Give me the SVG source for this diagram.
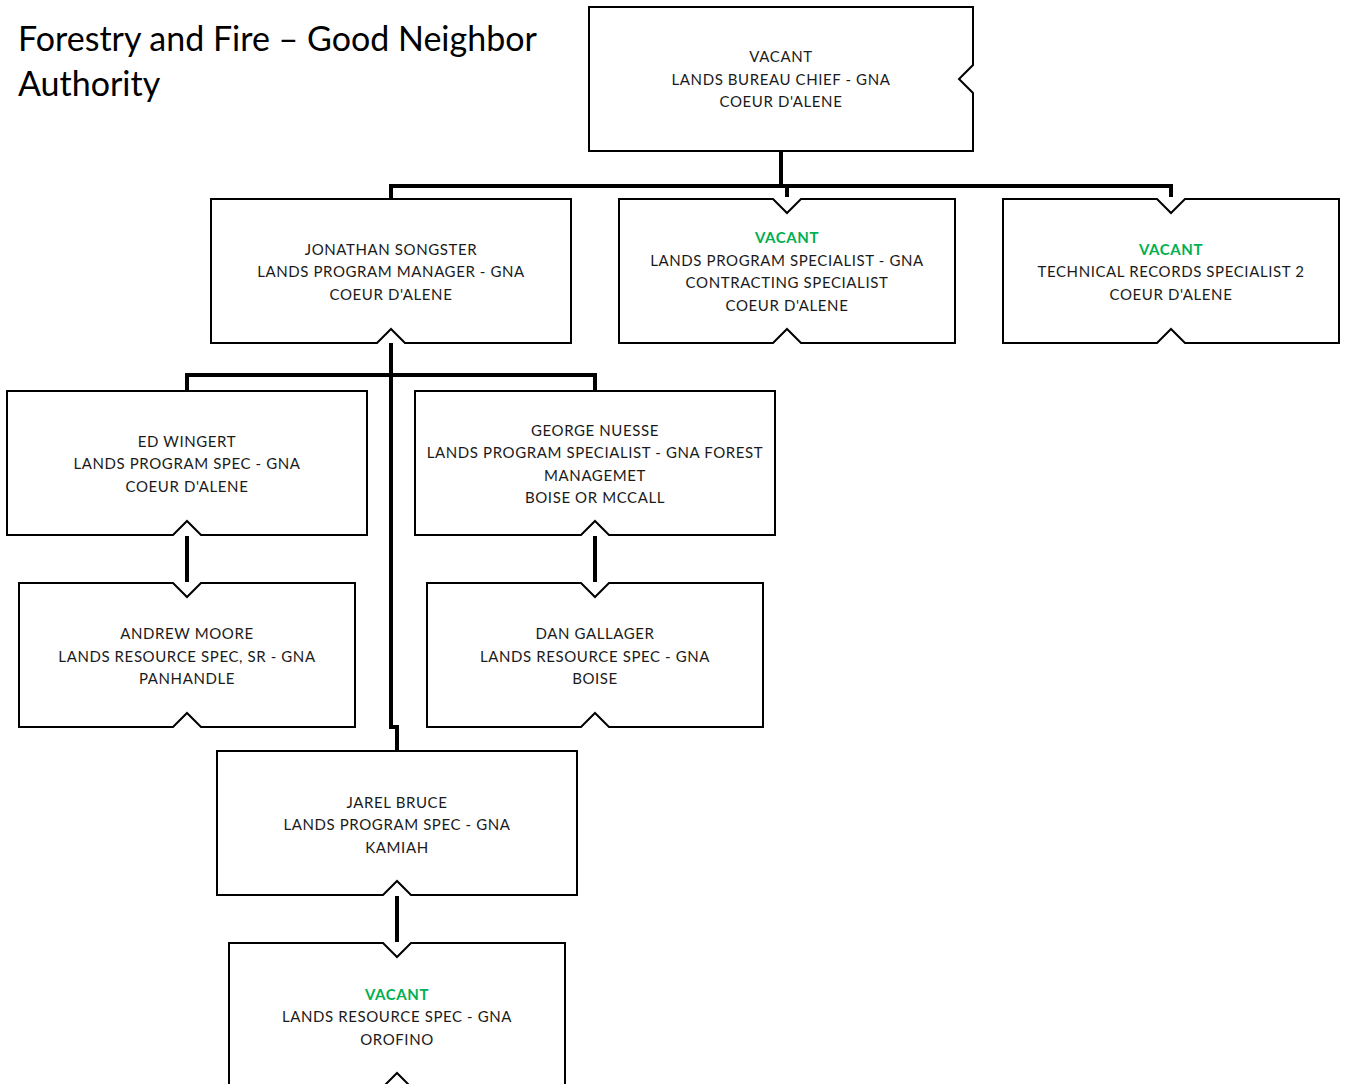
<svg xmlns="http://www.w3.org/2000/svg" width="1345" height="1084" viewBox="0 0 1345 1084">
<style>
.box{fill:#fff;stroke:#000;stroke-width:2}
.con{fill:none;stroke:#000;stroke-width:4}
text{font-family:Lato,"Open Sans","Liberation Sans",sans-serif;font-size:15px;fill:#1a1a1a;text-anchor:middle;letter-spacing:0.6px}
.v{fill:#00B050;font-weight:bold}
.title{font-size:34px;text-anchor:start;fill:#000;letter-spacing:0}
</style>
<rect width="1345" height="1084" fill="#fff"/>
<text class="title" x="18" y="51">Forestry and Fire – Good Neighbor</text>
<text class="title" x="18" y="96">Authority</text>
<g id="connectors">
<path class="con" d="M781,151 V186"/>
<path class="con" d="M391,199 V186 H1171 V197"/>
<path class="con" d="M787,186 V197"/>
<path class="con" d="M391,343 V727 H397 V751"/>
<path class="con" d="M187,391 V375 H595 V391"/>
<path class="con" d="M187,536 V582"/>
<path class="con" d="M595,536 V582"/>
<path class="con" d="M397,896 V942"/>
</g>
<g id="bureau-chief">
<path class="box" d="M589,7 H973 V65 L959,79 L973,93 V151 H589 Z"/>
<text x="781" y="62">VACANT</text>
<text x="781" y="85">LANDS BUREAU CHIEF - GNA</text>
<text x="781" y="107">COEUR D'ALENE</text>
</g>
<g id="jonathan-songster">
<path class="box" d="M211,199 H571 V343 H405 L391,329 L377,343 H211 Z"/>
<text x="391" y="255">JONATHAN SONGSTER</text>
<text x="391" y="277">LANDS PROGRAM MANAGER - GNA</text>
<text x="391" y="300">COEUR D'ALENE</text>
</g>
<g id="contracting-specialist">
<path class="box" d="M619,199 H773 L787,213 L801,199 H955 V343 H801 L787,329 L773,343 H619 Z"/>
<text class="v" x="787" y="243">VACANT</text>
<text x="787" y="266">LANDS PROGRAM SPECIALIST - GNA</text>
<text x="787" y="288">CONTRACTING SPECIALIST</text>
<text x="787" y="311">COEUR D'ALENE</text>
</g>
<g id="technical-records">
<path class="box" d="M1003,199 H1157 L1171,213 L1185,199 H1339 V343 H1185 L1171,329 L1157,343 H1003 Z"/>
<text class="v" x="1171" y="255">VACANT</text>
<text x="1171" y="277">TECHNICAL RECORDS SPECIALIST 2</text>
<text x="1171" y="300">COEUR D'ALENE</text>
</g>
<g id="ed-wingert">
<path class="box" d="M7,391 H367 V535 H201 L187,521 L173,535 H7 Z"/>
<text x="187" y="447">ED WINGERT</text>
<text x="187" y="469">LANDS PROGRAM SPEC - GNA</text>
<text x="187" y="492">COEUR D'ALENE</text>
</g>
<g id="george-nuesse">
<path class="box" d="M415,391 H775 V535 H609 L595,521 L581,535 H415 Z"/>
<text x="595" y="436">GEORGE NUESSE</text>
<text x="595" y="458">LANDS PROGRAM SPECIALIST - GNA FOREST</text>
<text x="595" y="481">MANAGEMET</text>
<text x="595" y="503">BOISE OR MCCALL</text>
</g>
<g id="andrew-moore">
<path class="box" d="M19,583 H173 L187,597 L201,583 H355 V727 H201 L187,713 L173,727 H19 Z"/>
<text x="187" y="639">ANDREW MOORE</text>
<text x="187" y="662">LANDS RESOURCE SPEC, SR - GNA</text>
<text x="187" y="684">PANHANDLE</text>
</g>
<g id="dan-gallager">
<path class="box" d="M427,583 H581 L595,597 L609,583 H763 V727 H609 L595,713 L581,727 H427 Z"/>
<text x="595" y="639">DAN GALLAGER</text>
<text x="595" y="662">LANDS RESOURCE SPEC - GNA</text>
<text x="595" y="684">BOISE</text>
</g>
<g id="jarel-bruce">
<path class="box" d="M217,751 H577 V895 H411 L397,881 L383,895 H217 Z"/>
<text x="397" y="808">JAREL BRUCE</text>
<text x="397" y="830">LANDS PROGRAM SPEC - GNA</text>
<text x="397" y="853">KAMIAH</text>
</g>
<g id="orofino-vacant">
<path class="box" d="M229,943 H383 L397,957 L411,943 H565 V1087 H411 L397,1073 L383,1087 H229 Z"/>
<text class="v" x="397" y="1000">VACANT</text>
<text x="397" y="1022">LANDS RESOURCE SPEC - GNA</text>
<text x="397" y="1045">OROFINO</text>
</g>
</svg>
